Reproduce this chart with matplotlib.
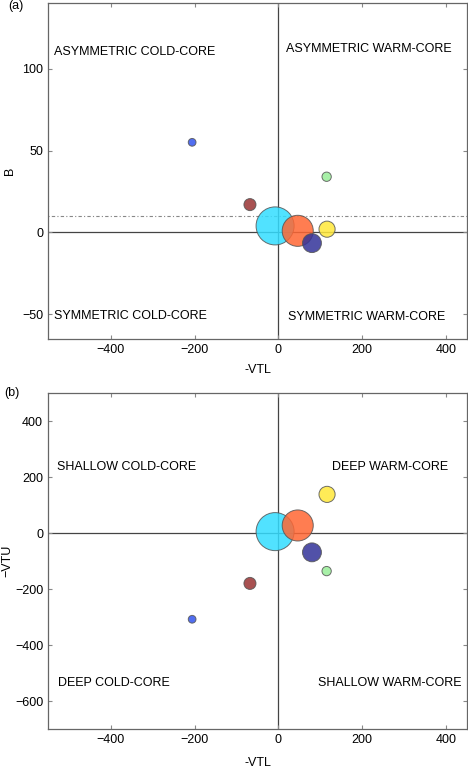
import matplotlib
matplotlib.use('Agg')
import matplotlib.pyplot as plt

plt.rcParams['font.family'] = ['Liberation Sans', 'DejaVu Sans']
plt.rcParams['font.size'] = 9

# cyclone phase space values
vtl = [-8, 46, 80, 116, -68, 115, -206]
b = [4, 1, -6.5, 2, 17, 34, 55]
vtu = [6, 28, -68, 139, -179, -135, -307]
sizes = [750, 500, 185, 135, 75, 45, 31]
colors = ['#33ddff', '#ff6633', '#333399', '#ffe83a', '#993333', '#99ee99', '#3355ee']

xticks = [-400, -200, 0, 200, 400]

fig = plt.figure(figsize=(4.68, 7.70), dpi=100)
ax1 = fig.add_axes([48 / 468, 1 - 339 / 770, 419 / 468, 336 / 770])
ax2 = fig.add_axes([48 / 468, 1 - 729.3 / 770, 419 / 468, 336 / 770])

for ax in (ax1, ax2):
    ax.axvline(0, color='#444444', lw=0.9, zorder=1)
    ax.axhline(0, color='#444444', lw=0.9, zorder=1)
    ax.set_xlim(-550, 450)
    ax.set_xticks(xticks)
    ax.set_xticklabels(['\u2212400', '\u2212200', '0', '200', '400'])
    ax.tick_params(direction='in', length=3, top=True, right=True, color='#888888', labelsize=9)
    for sp in ax.spines.values():
        sp.set_color('#666666')
        sp.set_linewidth(0.9)

ax1.set_xlabel('-VTL', fontsize=9, labelpad=6)
ax2.set_xlabel('-VTL', fontsize=9, labelpad=7.5)

ax1.axhline(10, color='#888888', lw=0.8, ls=(0, (1, 2, 3, 2)), zorder=1)
ax1.scatter(vtl, b, s=sizes, c=colors, alpha=0.85, edgecolors='#555555', linewidths=0.7, zorder=3)
ax1.set_ylim(-65, 140)
ax1.set_yticks([-50, 0, 50, 100])
ax1.set_yticklabels(['\u221250', '0', '50', '100'])
ax1.set_ylabel('B', fontsize=9)
ax1.text(-535, 110, 'ASYMMETRIC COLD-CORE', fontsize=9, va='center')
ax1.text(18, 112, 'ASYMMETRIC WARM-CORE', fontsize=9, va='center')
ax1.text(-535, -51, 'SYMMETRIC COLD-CORE', fontsize=9, va='center')
ax1.text(22, -51.6, 'SYMMETRIC WARM-CORE', fontsize=9, va='center')
fig.text(8 / 468, 1 - 6 / 770, '(a)', fontsize=9, va='center')

ax2.scatter(vtl, vtu, s=sizes, c=colors, alpha=0.85, edgecolors='#555555', linewidths=0.7, zorder=3)
ax2.set_ylim(-700, 500)
ax2.set_yticks([-600, -400, -200, 0, 200, 400])
ax2.set_yticklabels(['\u2212600', '\u2212400', '\u2212200', '0', '200', '400'])
ax2.set_ylabel('\u2212VTU', fontsize=9, labelpad=1)
ax2.text(-528, 237, 'SHALLOW COLD-CORE', fontsize=9, va='center')
ax2.text(404, 236, 'DEEP WARM-CORE', fontsize=9, va='center', ha='right')
ax2.text(-525, -536, 'DEEP COLD-CORE', fontsize=9, va='center')
ax2.text(437, -536, 'SHALLOW WARM-CORE', fontsize=9, va='center', ha='right')
fig.text(4 / 468, 1 - 393 / 770, '(b)', fontsize=9, va='center')

fig.savefig('out.png', dpi=100)
